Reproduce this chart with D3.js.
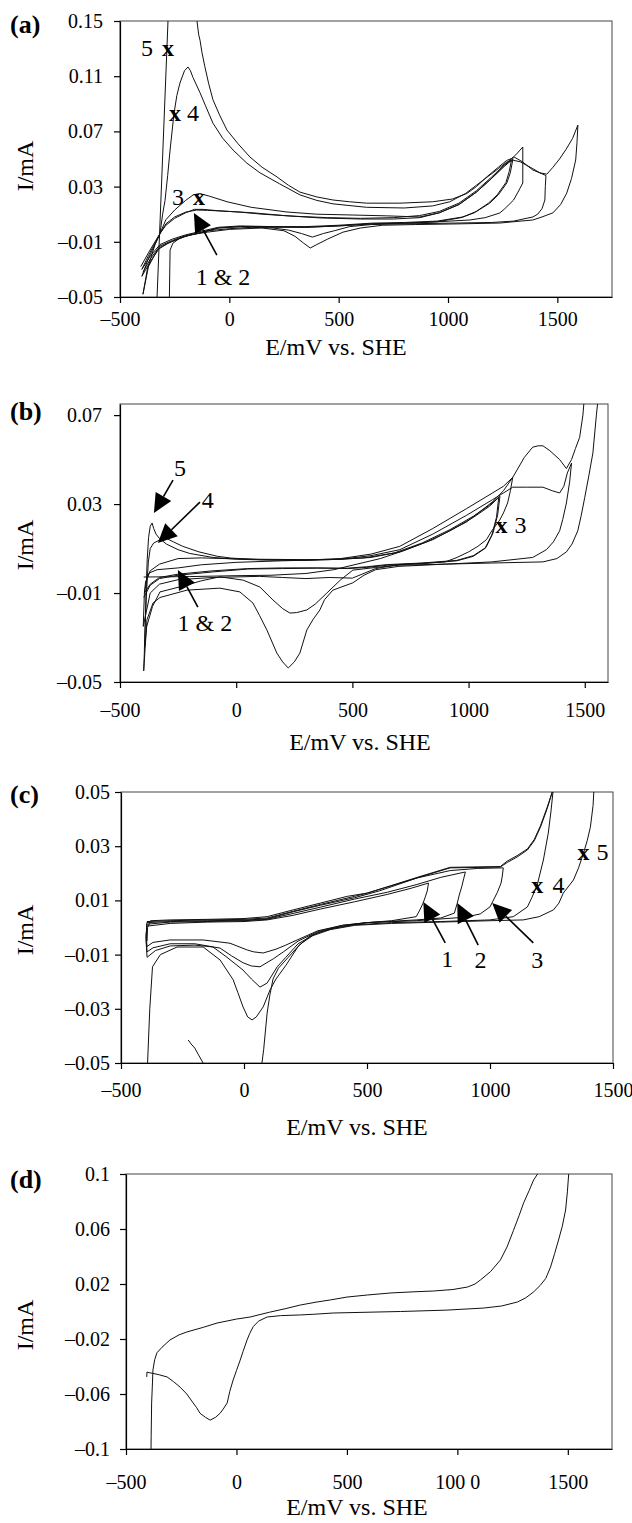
<!DOCTYPE html>
<html>
<head>
<meta charset="utf-8">
<script src="https://cdn.jsdelivr.net/npm/d3@7"></script>
<style>
  body { margin: 0; background: #fff; }
  svg text { font-family: "Liberation Serif", "Times New Roman", serif; fill: #000; }
</style>
</head>
<body>
<script>
// ---- panel (a): E/mV, I/mA, one array per cycle ----
const a1 = [[-400,-0.030],[-370,-0.020],[-340,-0.011],[-317,-0.004],[-290,0.002],[-250,0.007],[-200,0.011],[-160,0.0135],[-120,0.0135],[-50,0.0125],[50,0.0115],[150,0.010],[300,0.0085],[450,0.0075],[600,0.007],[750,0.0075],[870,0.009],[960,0.012],[1050,0.018],[1130,0.027],[1200,0.037],[1260,0.046],[1297,0.050],
  [1285,0.040],[1269,0.0326],[1230,0.024],[1191,0.018],[1130,0.012],[1068,0.008],[950,0.005],[800,0.004],[650,0.0035],[500,0.002],[350,0.001],[200,0.001],[50,0.0015],[-50,0.0005],[-120,-0.002],[-200,-0.005],[-260,-0.008],[-317,-0.012],[-360,-0.020],[-400,-0.030]];
const a2 = [[-405,-0.028],[-370,-0.018],[-340,-0.010],[-317,-0.004],[-290,0.003],[-250,0.008],[-200,0.0115],[-150,0.013],[-100,0.0128],[0,0.012],[108,0.011],[250,0.009],[414,0.0073],[600,0.0065],[750,0.0065],[871,0.0075],[960,0.011],[1050,0.017],[1130,0.026],[1200,0.036],[1260,0.045],[1290,0.049],
  [1280,0.041],[1265,0.033],[1225,0.024],[1185,0.018],[1120,0.011],[1060,0.0075],[950,0.0045],[800,0.0035],[650,0.003],[500,0.0015],[350,0.0005],[200,0.001],[50,0.001],[-50,0.0],[-120,-0.003],[-200,-0.0055],[-260,-0.009],[-317,-0.013],[-360,-0.022],[-395,-0.032]];
const a3 = [[-400,-0.035],[-370,-0.022],[-340,-0.012],[-317,-0.004],[-290,0.006],[-250,0.013],[-200,0.020],[-165,0.024],[-135,0.025],[-90,0.023],[-10,0.019],[100,0.015],[263,0.0116],[400,0.010],[565,0.0094],[720,0.0088],[871,0.008],[960,0.011],[1050,0.017],[1130,0.026],[1200,0.036],[1260,0.046],[1310,0.053],[1342,0.0587],
  [1342,0.0326],[1320,0.026],[1300,0.0203],[1260,0.014],[1237,0.0109],[1170,0.0075],[1100,0.0058],[950,0.0045],[800,0.0035],[650,0.003],[500,0.0015],[350,0.0005],[200,0.0005],[50,0.001],[-50,0.0],[-120,-0.003],[-200,-0.006],[-260,-0.0095],[-317,-0.014],[-360,-0.024],[-400,-0.035]];
const a4 = [[-395,-0.048],[-375,-0.030],[-340,-0.012],[-317,-0.004],[-305,0.010],[-294,0.020],[-282,0.038],[-271,0.0565],[-253,0.083],[-240,0.096],[-226,0.105],[-205,0.114],[-189,0.1167],[-178,0.114],[-166,0.109],[-134,0.098],[-110,0.089],[-75,0.076],[-30,0.065],[17,0.0565],[80,0.047],[140,0.040],[230,0.032],[323,0.024],[400,0.020],[474,0.0175],[628,0.015],[800,0.0145],[930,0.016],[1008,0.019],[1080,0.025],[1130,0.031],[1180,0.037],[1230,0.043],[1269,0.0478],[1300,0.049],[1330,0.048],[1388,0.043],[1420,0.040],[1448,0.038],
  [1445,0.030],[1443,0.0203],[1430,0.014],[1410,0.010],[1388,0.008],[1300,0.005],[1200,0.004],[1000,0.0035],[800,0.003],[650,0.0025],[550,0.001],[480,-0.002],[430,-0.004],[380,-0.0066],[330,-0.004],[270,-0.0015],[200,0.0],[100,0.0005],[0,-0.0005],[-100,-0.002],[-200,-0.006],[-280,-0.011],[-330,-0.016],[-370,-0.028],[-395,-0.048]];
const a5 = [[-333,-0.06],[-278,0.16],[-150,0.16],[-148,0.15],[-140,0.140],[-134,0.136],[-125,0.127],[-112,0.117],[-95,0.105],[-75,0.093],[-45,0.082],[-11,0.071],[40,0.061],[94,0.0515],[150,0.044],[218,0.037],[270,0.031],[323,0.026],[400,0.0225],[474,0.0203],[550,0.019],[628,0.018],[780,0.018],[930,0.019],[1020,0.021],[1086,0.025],[1130,0.030],[1177,0.037],[1230,0.044],[1269,0.049],[1305,0.0512],[1340,0.048],[1388,0.042],[1420,0.040],[1452,0.039],[1480,0.044],[1510,0.050],[1540,0.057],[1570,0.065],[1594,0.0746],
  [1590,0.062],[1584,0.0493],[1565,0.036],[1543,0.0253],[1515,0.017],[1480,0.011],[1430,0.008],[1388,0.0058],[1237,0.0036],[1050,0.003],[850,0.0025],[700,0.002],[600,0.0],[520,-0.003],[450,-0.008],[400,-0.012],[370,-0.0145],[340,-0.011],[300,-0.006],[250,-0.002],[150,0.0],[0,-0.001],[-100,-0.003],[-180,-0.005],[-226,-0.0073],[-258,-0.011],[-271,-0.016],[-275,-0.06]];

// ---- panel (b) ----
const b1 = [[-398,-0.0028],[-300,-0.0027],[-200,-0.0026],[-100,-0.0024],[0,-0.0022],[150,-0.002],[300,-0.0012],[420,0.0005],[520,0.003],[620,0.0055],[720,0.009],[820,0.013],[920,0.018],[1020,0.024],[1090,0.029],[1130,0.033],
  [1120,0.024],[1100,0.016],[1070,0.010],[1020,0.0065],[950,0.0045],[800,0.0032],[650,0.0025],[560,0.0015],[480,0.001],[350,0.0013],[200,0.0013],[50,0.001],[-100,0.0],[-250,-0.0015],[-330,-0.003],[-370,-0.006],[-395,-0.010]];
const b2 = [[-395,-0.010],[-390,-0.005],[-375,-0.001],[-340,0.0005],[-250,0.0013],[-150,0.0027],[0,0.0038],[200,0.0045],[400,0.005],[550,0.0058],[680,0.008],[800,0.0125],[920,0.0185],[1020,0.0245],[1090,0.0295],[1135,0.0335],
  [1125,0.025],[1105,0.017],[1075,0.0105],[1020,0.0068],[950,0.0047],[800,0.0035],[650,0.0028],[560,0.0018],[480,0.0012],[350,0.0012],[200,0.001],[50,0.0008],[-100,-0.0005],[-250,-0.002],[-330,-0.0035],[-370,-0.0065],[-398,-0.012]];
const b3 = [[-400,-0.025],[-395,-0.010],[-385,-0.004],[-370,0.0],[-330,0.003],[-250,0.0055],[-150,0.0058],[-50,0.0055],[100,0.0052],[300,0.005],[450,0.0052],[580,0.006],[704,0.0085],[846,0.014],[992,0.022],[1103,0.031],[1150,0.036],[1190,0.042],
  [1180,0.036],[1168,0.0305],[1150,0.026],[1134,0.0228],[1100,0.018],[1077,0.014],[1040,0.011],[1000,0.0085],[950,0.006],[900,0.004],[700,0.0028],[600,0.001],[500,-0.0033],[400,-0.003],[300,-0.0035],[200,-0.003],[100,-0.0025],[-100,-0.003],[-250,-0.004],[-330,-0.006],[-370,-0.010],[-400,-0.025]];
const b4 = [[-395,-0.035],[-390,-0.020],[-385,-0.008],[-378,0.004],[-370,0.010],[-355,0.0125],[-330,0.0138],[-300,0.0146],[-270,0.013],[-230,0.011],[-160,0.0085],[-80,0.0065],[-20,0.0057],[100,0.005],[300,0.0048],[450,0.0052],[580,0.0068],[704,0.0095],[846,0.0165],[992,0.025],[1103,0.032],[1150,0.035],[1190,0.0376],[1250,0.0376],[1320,0.0376],[1360,0.036],[1392,0.035],[1410,0.038],[1425,0.044],[1443,0.0484],
  [1435,0.040],[1421,0.0305],[1405,0.023],[1392,0.018],[1365,0.013],[1335,0.0095],[1276,0.006],[1100,0.004],[900,0.003],[700,0.0025],[600,0.0015],[502,0.0003],[450,-0.004],[390,-0.010],[340,-0.015],[304,-0.0176],[260,-0.0188],[231,-0.019],[200,-0.017],[158,-0.0131],[102,-0.0073],[30,-0.0042],[-70,-0.0027],[-150,-0.0045],[-212,-0.0064],[-328,-0.0095],[-360,-0.016],[-385,-0.025],[-395,-0.035]];
const b5 = [[-398,-0.045],[-393,-0.030],[-388,-0.010],[-383,0.005],[-377,0.015],[-370,0.020],[-362,0.0215],[-355,0.019],[-345,0.0165],[-330,0.0145],[-300,0.012],[-250,0.0095],[-200,0.0078],[-100,0.006],[0,0.0052],[150,0.0048],[300,0.0048],[450,0.0055],[580,0.0075],[704,0.011],[846,0.019],[992,0.028],[1103,0.035],[1150,0.038],[1190,0.042],[1240,0.051],[1276,0.0556],[1300,0.0562],[1320,0.0562],[1350,0.054],[1392,0.050],[1421,0.046],[1443,0.050],[1460,0.055],[1478,0.060],[1492,0.070],[1500,0.080],
  [1560,0.080],[1550,0.070],[1535,0.053],[1518,0.043],[1500,0.033],[1485,0.025],[1470,0.018],[1445,0.012],[1421,0.0085],[1380,0.0055],[1320,0.004],[1100,0.0035],[900,0.003],[700,0.002],[600,0.0005],[550,-0.002],[502,-0.0054],[416,-0.0087],[380,-0.013],[360,-0.0176],[330,-0.022],[304,-0.0266],[274,-0.037],[250,-0.041],[224,-0.0437],[200,-0.041],[175,-0.037],[132,-0.0266],[100,-0.020],[72,-0.0145],[16,-0.0095],[-70,-0.0078],[-212,-0.0087],[-328,-0.012],[-358,-0.0145],[-384,-0.022],[-392,-0.035],[-398,-0.045]];

// ---- panel (c) ----
const c1 = [[-395,0.0005],[-300,0.0015],[-150,0.002],[0,0.0022],[94,0.0028],[200,0.0045],[310,0.0068],[450,0.0095],[582,0.0122],[680,0.0145],[750,0.0164],
  [745,0.0135],[737,0.0113],[728,0.009],[715,0.0065],[700,0.004],[600,0.0025],[500,0.0018],[400,0.0008],[300,-0.0012],[216,-0.0046],[170,-0.0065],[130,-0.008],[78,-0.0094],[40,-0.009],[13,-0.0083],[-57,-0.0058],[-166,-0.0046],[-301,-0.0046],[-370,-0.0055],[-394,-0.007],[-398,-0.003],[-395,0.0005]];
const c2 = [[-395,0.0012],[-300,0.002],[-150,0.0022],[0,0.0025],[94,0.003],[200,0.0052],[310,0.0075],[450,0.0105],[582,0.013],[700,0.0158],[800,0.0185],[900,0.0205],
  [893,0.018],[885,0.015],[875,0.012],[867,0.009],[855,0.0053],[800,0.0035],[700,0.0028],[500,0.0018],[400,0.0008],[300,-0.0015],[220,-0.005],[160,-0.009],[120,-0.0115],[65,-0.0145],[30,-0.0142],[-4,-0.013],[-50,-0.0105],[-97,-0.0076],[-200,-0.006],[-300,-0.006],[-370,-0.0075],[-394,-0.009],[-398,-0.004],[-395,0.0012]];
const c3 = [[-395,0.0018],[-300,0.0022],[-150,0.0025],[0,0.0027],[94,0.0032],[200,0.0058],[310,0.0082],[450,0.011],[550,0.0135],[704,0.0183],[838,0.021],[950,0.0218],[1054,0.022],
  [1050,0.019],[1045,0.0164],[1030,0.013],[1014,0.0101],[1000,0.0076],[960,0.005],[900,0.0038],[700,0.0025],[500,0.0018],[400,0.0005],[300,-0.0018],[220,-0.006],[170,-0.011],[135,-0.0145],[94,-0.0205],[65,-0.022],[30,-0.019],[-4,-0.0157],[-69,-0.011],[-126,-0.0072],[-200,-0.0065],[-300,-0.0068],[-360,-0.0085],[-394,-0.011],[-398,-0.005],[-395,0.0018]];
const c4 = [[-395,0.0022],[-300,0.0025],[-150,0.0028],[0,0.003],[94,0.0035],[200,0.006],[310,0.0085],[450,0.0115],[501,0.0127],[704,0.0183],[838,0.022],[1042,0.0223],[1070,0.024],[1110,0.026],[1152,0.0286],[1180,0.032],[1205,0.037],[1233,0.044],[1253,0.050],[1260,0.056],
  [1256,0.050],[1248,0.043],[1237,0.0349],[1217,0.0249],[1192,0.0157],[1170,0.011],[1152,0.0076],[1095,0.004],[1000,0.0028],[800,0.0022],[600,0.0018],[450,0.001],[350,-0.0005],[270,-0.003],[220,-0.007],[170,-0.014],[130,-0.019],[106,-0.023],[78,-0.0293],[50,-0.033],[33,-0.0341],[15,-0.033],[-4,-0.0293],[-25,-0.024],[-44,-0.0193],[-97,-0.012],[-166,-0.0072],[-272,-0.0072],[-340,-0.010],[-372,-0.0145],[-383,-0.030],[-392,-0.050],[-394,-0.060]];
const c5 = [[-394,-0.005],[-392,0.0],[-380,0.0025],[-300,0.0028],[-150,0.003],[0,0.0033],[94,0.004],[200,0.0065],[310,0.009],[420,0.0115],[501,0.0127],[600,0.0155],[704,0.0185],[838,0.0222],[1042,0.0225],[1070,0.0245],[1110,0.0265],[1152,0.029],[1180,0.0325],[1205,0.0375],[1233,0.0445],[1253,0.050],[1270,0.060],[1430,0.060],
  [1422,0.050],[1419,0.045],[1408,0.037],[1395,0.032],[1380,0.0274],[1360,0.022],[1339,0.0175],[1298,0.0127],[1280,0.009],[1258,0.0065],[1200,0.004],[1135,0.0028],[1000,0.0025],[800,0.002],[600,0.0015],[450,0.0008],[350,-0.0008],[280,-0.003],[230,-0.006],[180,-0.011],[140,-0.015],[118,-0.019],[105,-0.025],[94,-0.0316],[80,-0.045],[73,-0.050],[70,-0.060],[-150,-0.060],[-166,-0.050],[-185,-0.047],[-200,-0.0445],[-215,-0.043],[-227,-0.0415]];

// ---- panel (d) ----
const d1 = [[-387,-0.105],[-386,-0.090],[-384,-0.0665],[-381,-0.055],[-378,-0.0425],[-370,-0.035],[-360,-0.030],[-337,-0.026],[-301,-0.0207],[-260,-0.017],[-225,-0.0149],[-150,-0.0115],[-88,-0.0084],[0,-0.0055],[62,-0.004],[150,-0.0005],[220,0.002],[289,0.0047],[360,0.0068],[425,0.0084],[500,0.0105],[592,0.012],[700,0.0135],[800,0.0143],[892,0.0149],[980,0.016],[1046,0.0178],[1080,0.020],[1105,0.023],[1150,0.029],[1195,0.0375],[1225,0.047],[1254,0.059],[1280,0.070],[1300,0.079],[1325,0.088],[1345,0.0956],[1363,0.100],[1375,0.110],
  [1500,0.110],[1504,0.100],[1498,0.087],[1490,0.0738],[1475,0.062],[1458,0.052],[1440,0.042],[1422,0.0324],[1400,0.024],[1375,0.019],[1345,0.0142],[1310,0.010],[1272,0.0069],[1200,0.004],[1118,0.0025],[950,0.001],[742,0.0],[600,-0.0005],[438,-0.0011],[350,-0.002],[289,-0.0025],[200,-0.003],[139,-0.004],[100,-0.007],[76,-0.011],[60,-0.016],[48,-0.0207],[30,-0.029],[17,-0.0353],[0,-0.043],[-15,-0.0498],[-30,-0.058],[-42,-0.0665],[-60,-0.071],[-74,-0.074],[-95,-0.077],[-119,-0.079],[-140,-0.077],[-165,-0.074],[-180,-0.070],[-196,-0.0665],[-225,-0.060],[-255,-0.055],[-285,-0.051],[-314,-0.0476],[-350,-0.046],[-378,-0.045],[-395,-0.0445],[-405,-0.044],[-406,-0.0476]];

// ---- tick values and labels ----
const xTicks = [-500, 0, 500, 1000, 1500];
const xLabels = ["\u2013500", "0", "500", "1000", "1500"];
const xLabelsD = ["\u2013500", "0", "500", "100 0", "1500"];
const yTicksA = [-0.05, -0.01, 0.03, 0.07, 0.11, 0.15];
const yLabelsA = ["\u20130.05", "\u20130.01", "0.03", "0.07", "0.11", "0.15"];
const yTicksB = [-0.05, -0.01, 0.03, 0.07];
const yLabelsB = ["\u20130.05", "\u20130.01", "0.03", "0.07"];
const yTicksC = [-0.05, -0.03, -0.01, 0.01, 0.03, 0.05];
const yLabelsC = ["\u20130.05", "\u20130.03", "\u20130.01", "0.01", "0.03", "0.05"];
const yTicksD = [-0.1, -0.06, -0.02, 0.02, 0.06, 0.1];
const yLabelsD = ["\u20130.1", "\u20130.06", "\u20130.02", "0.02", "0.06", "0.1"];

// ---- annotations: [E, I] positions ----
const notesA = [{t: "5", at: [-377, 0.131]}, {t: "x", at: [-281, 0.131], b: 1},
  {t: "x", at: [-249, 0.0833], b: 1}, {t: "4", at: [-166, 0.0833]},
  {t: "3", at: [-235, 0.0225]}, {t: "x", at: [-139, 0.0225], b: 1},
  {t: "1 & 2", at: [-29, -0.0355]}];
const arrowsA = [{tip: [-162, 0.0109], tail: [-57, -0.0196]}];
const notesB = [{t: "5", at: [-242, 0.0466]}, {t: "4", at: [-122, 0.0318]},
  {t: "1 & 2", at: [-135, -0.0235]}, {t: "x", at: [1142, 0.0206], b: 1}, {t: "3", at: [1224, 0.0206]}];
const arrowsB = [{tip: [-354, 0.026], tail: [-272, 0.0408]}, {tip: [-337, 0.0125], tail: [-156, 0.0309]},
  {tip: [-251, 0.0004], tail: [-165, -0.0163]}];
const notesC = [{t: "1", at: [826, -0.0113]}, {t: "2", at: [961, -0.012]}, {t: "3", at: [1192, -0.012]},
  {t: "x", at: [1192, 0.0157], b: 1}, {t: "4", at: [1278, 0.0157]},
  {t: "x", at: [1380, 0.0279], b: 1}, {t: "5", at: [1457, 0.0279]}];
const arrowsC = [{tip: [729, 0.0094], tail: [818, -0.0057]}, {tip: [867, 0.009], tail: [952, -0.0065]},
  {tip: [1009, 0.009], tail: [1176, -0.0057]}];

const panels = [
  {letter: "(a)", l: 120, r: 612, t: 21, b: 297, xd: [-500, 1750], yd: [-0.05, 0.15],
   xl: xLabels, yt: yTicksA, yl: yLabelsA, xPad: 9, yPad: 11, letterY: 33, yTitleY: 166, xTitleX: 336, xTitleY: 347,
   curves: [a1, a2, a3, a4, a5], notes: notesA, arrows: arrowsA},
  {letter: "(b)", l: 120, r: 608, t: 404, b: 682, xd: [-500, 1600], yd: [-0.05, 0.075],
   xl: xLabels, yt: yTicksB, yl: yLabelsB, xPad: 15, yPad: 12, letterY: 420, yTitleY: 545, xTitleX: 360, xTitleY: 742,
   curves: [b1, b2, b3, b4, b5], notes: notesB, arrows: arrowsB},
  {letter: "(c)", l: 121, r: 613, t: 792, b: 1063, xd: [-500, 1500], yd: [-0.05, 0.05],
   xl: xLabels, yt: yTicksC, yl: yLabelsC, xPad: 14, yPad: 5, letterY: 803, yTitleY: 930, xTitleX: 357, xTitleY: 1127,
   curves: [c1, c2, c3, c4, c5], notes: notesC, arrows: arrowsC},
  {letter: "(d)", l: 126, r: 612, t: 1174, b: 1449, xd: [-500, 1700], yd: [-0.1, 0.1],
   xl: xLabelsD, yt: yTicksD, yl: yLabelsD, xPad: 20, yPad: 10, letterY: 1188, yTitleY: 1325, xTitleX: 357, xTitleY: 1507,
   curves: [d1], notes: [], arrows: []}
];

const svg = d3.select("body").append("svg")
  .attr("width", 632)
  .attr("height", 1523);

panels.forEach((p, k) => {
  const x = d3.scaleLinear().domain(p.xd).range([p.l, p.r]);
  const y = d3.scaleLinear().domain(p.yd).range([p.b, p.t]);
  const g = svg.append("g");

  g.append("clipPath").attr("id", "clip" + k)
    .append("rect")
    .attr("x", p.l).attr("y", p.t)
    .attr("width", p.r - p.l).attr("height", p.b - p.t);

  // box (top and right edges)
  g.append("rect")
    .attr("x", p.l).attr("y", p.t)
    .attr("width", p.r - p.l).attr("height", p.b - p.t)
    .attr("fill", "none")
    .attr("stroke", "#444")
    .attr("stroke-width", 1);

  const line = d3.line().x(d => x(d[0])).y(d => y(d[1]));

  g.append("g")
    .attr("clip-path", "url(#clip" + k + ")")
    .selectAll("path")
    .data(p.curves)
    .enter().append("path")
    .attr("d", line)
    .attr("fill", "none")
    .attr("stroke", "#111")
    .attr("stroke-width", 1)
    .attr("stroke-linejoin", "round");

  /**
   * Axes
   */
  const xAxis = d3.axisBottom(x)
    .tickValues(xTicks)
    .tickSize(6)
    .tickSizeOuter(0)
    .tickPadding(p.xPad)
    .tickFormat((d, i) => p.xl[i]);
  const gx = g.append("g")
    .attr("transform", "translate(0," + p.b + ")")
    .call(xAxis);

  const yAxis = d3.axisLeft(y)
    .tickValues(p.yt)
    .tickSize(6)
    .tickSizeOuter(0)
    .tickPadding(p.yPad)
    .tickFormat((d, i) => p.yl[i]);
  const gy = g.append("g")
    .attr("transform", "translate(" + p.l + ",0)")
    .call(yAxis);

  [gx, gy].forEach(a => {
    a.attr("font-size", 20).attr("font-family", null);
    a.selectAll("path, line").attr("stroke", "#000").attr("stroke-width", 1.2);
  });

  // titles
  g.append("text")
    .attr("x", 10).attr("y", p.letterY)
    .attr("font-size", 26).attr("font-weight", "bold")
    .text(p.letter);
  g.append("text")
    .attr("transform", "translate(25," + p.yTitleY + ") rotate(-90)")
    .attr("text-anchor", "middle").attr("dy", "0.35em")
    .attr("font-size", 24)
    .text("I/mA");
  g.append("text")
    .attr("x", p.xTitleX).attr("y", p.xTitleY)
    .attr("text-anchor", "middle").attr("dy", "0.35em")
    .attr("font-size", 24)
    .text("E/mV vs. SHE");

  // curve labels
  g.selectAll(".note")
    .data(p.notes)
    .enter().append("text")
    .attr("class", "note")
    .attr("x", d => x(d.at[0])).attr("y", d => y(d.at[1]))
    .attr("text-anchor", "middle").attr("dy", "0.35em")
    .attr("font-size", 24)
    .attr("font-weight", d => d.b ? "bold" : "normal")
    .text(d => d.t);

  // arrows with filled heads
  p.arrows.forEach(a => {
    const x0 = x(a.tip[0]), y0 = y(a.tip[1]);
    const x1 = x(a.tail[0]), y1 = y(a.tail[1]);
    const len = Math.hypot(x1 - x0, y1 - y0);
    const ux = (x1 - x0) / len, uy = (y1 - y0) / len;
    const hl = 19, hw = 9;
    const bx = x0 + ux * hl, by = y0 + uy * hl;
    g.append("line")
      .attr("x1", bx).attr("y1", by).attr("x2", x1).attr("y2", y1)
      .attr("stroke", "#000").attr("stroke-width", 1.6);
    g.append("path")
      .attr("d", "M" + x0 + "," + y0 +
        "L" + (bx - uy * hw) + "," + (by + ux * hw) +
        "L" + (bx + uy * hw) + "," + (by - ux * hw) + "Z")
      .attr("fill", "#000");
  });
});
</script>
</body>
</html>
